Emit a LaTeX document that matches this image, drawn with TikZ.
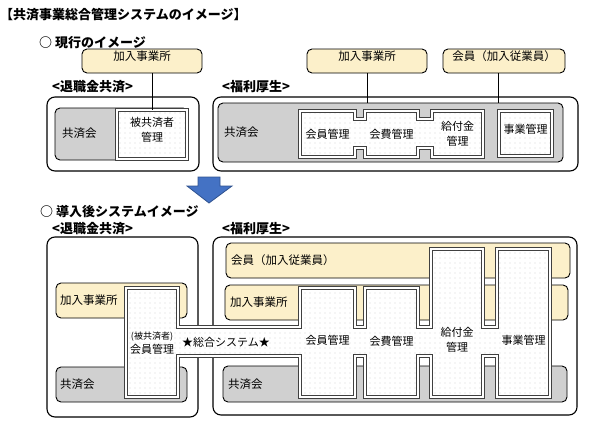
\documentclass[tikz,border=0pt]{standalone}
\usepackage{fontspec}
\setmainfont{Noto Sans CJK JP}
\usetikzlibrary{fit,patterns.meta}
\definecolor{kiiro}{HTML}{FCF0CA}
\definecolor{haiiro}{HTML}{D0D0D0}
\definecolor{ao}{HTML}{4472C4}
\definecolor{aowaku}{HTML}{2F528F}
\begin{document}
\begin{tikzpicture}[x=1pt,y=-1pt,font=\fontsize{11.5}{13}\selectfont,
   frame/.style={draw=black,line width=1.1pt,rounded corners=8pt,fill=white},
   ybox/.style={draw=black,line width=0.9pt,rounded corners=5pt,fill=kiiro,inner sep=0pt},
   gbox/.style={draw=black,line width=0.9pt,rounded corners=5pt,fill=haiiro,inner sep=0pt},
   sys/.style={draw=black!75,line width=1pt,double=white,double distance=1.2pt,
     preaction={fill=white},pattern={Dots[distance=5pt,radius=0.45pt]},pattern color=black!45},
   sysbox/.style={sys,inner sep=0pt,align=center},
   head/.style={anchor=west,inner sep=0pt,font=\fontsize{13}{15}\selectfont\bfseries},
   lbl/.style={anchor=west,inner sep=0pt},
   txt/.style={align=center,inner sep=0pt,font=\fontsize{11}{15}\selectfont},
   link/.style={draw=black,line width=0.8pt}]
  \useasboundingbox (0,0) rectangle (593,428);

  % headings
  \node[head] (title) at (0,15) {【共済事業総合管理システムのイメージ】};
  \node[head] (genko) at (39,43) {○ 現行のイメージ};
  \node[head] (tkA) at (52,87) {<退職金共済>};
  \node[head] (fkA) at (222,87) {<福利厚生>};
  \node[head] (donyu) at (40,212) {○ 導入後システムイメージ};
  \node[head] (tkB) at (52,229) {<退職金共済>};
  \node[head] (fkB) at (222,229) {<福利厚生>};

  % current
  \draw[frame] (47,97) rectangle (199,171);
  \draw[frame] (213,97) rectangle (578,171);
  \node[gbox,fit={(55,108)(188,160)}] (kyA) {};
  \node[gbox,fit={(218,103)(563,162)}] (kyB) {};
  \node[lbl] (kyAt) at (62,133) {共済会};
  \node[lbl] (kyBt) at (224,132) {共済会};
  \node[sysbox,txt,fit={(117,110)(187,159)}] (hkA) {被共済者\\管理};
  \draw[sys] (300,111) -- (355,111) -- (355,119) -- (365,119) -- (365,111) -- (418,111)
    -- (418,119) -- (432,119) -- (432,111) -- (483,111) -- (483,157) -- (432,157)
    -- (432,148) -- (418,148) -- (418,157) -- (365,157) -- (365,148) -- (355,148)
    -- (355,157) -- (300,157) -- cycle;
  \node[txt] (kmA) at (327.5,134) {会員管理};
  \node[txt] (khA) at (391.5,134) {会費管理};
  \node[txt] (kfA) at (457.5,134) {給付金\\管理};
  \node[sysbox,txt,fit={(499,111)(552,156)}] (jmA) {事業管理};

  \node[ybox,fit={(82,49)(202,73)}] (kjA) {加入事業所};
  \node[ybox,fit={(307,49)(427,73)}] (kjB) {加入事業所};
  \node[ybox,fit={(443,49)(565,73)}] (kiA) {会員（加入従業員）};
  \draw[link] (kjA.south -| hkA.north) -- (hkA.north);
  \draw[link] (kjB.south) -- (kjB.south |- kyB.north);
  \draw[link] ([xshift=-6pt]kiA.south) -- ([xshift=-6pt]kiA.south |- kyB.north);

  \draw[fill=ao,draw=aowaku,line width=0.8pt] (198,177) -- (220,177) -- (220,186)
    -- (232,186) -- (209,203) -- (187,186) -- (198,186) -- cycle;

  % after introduction
  \draw[frame] (47,237) rectangle (198,417);
  \draw[frame] (213,237) rectangle (577,415);
  \node[ybox,fit={(56,283)(187,318)}] (kjC) {};
  \node[lbl] (kjCt) at (60,300) {加入事業所};
  \node[gbox,fit={(56,367)(187,402)}] (kyC) {};
  \node[lbl] (kyCt) at (60,384) {共済会};
  \node[ybox,fit={(226,243)(570,278)}] (kiB) {};
  \node[lbl] (kiBt) at (231,260) {会員（加入従業員）};
  \node[ybox,fit={(225,285)(568,320)}] (kjD) {};
  \node[lbl] (kjDt) at (230,302) {加入事業所};
  \node[gbox,fit={(223,366)(567,402)}] (kyD) {};
  \node[lbl] (kyDt) at (228,384) {共済会};

  \draw[sys] (126,288) -- (178,288) -- (178,327) -- (300,327) -- (300,288) -- (355,288)
    -- (355,327) -- (365,327) -- (365,288) -- (418,288) -- (418,327) -- (431,327)
    -- (431,249) -- (483,249) -- (483,327) -- (497,327) -- (497,249) -- (550,249)
    -- (550,397) -- (497,397) -- (497,356) -- (483,356) -- (483,397) -- (431,397)
    -- (431,356) -- (418,356) -- (418,397) -- (365,397) -- (365,356) -- (355,356)
    -- (355,397) -- (300,397) -- (300,356) -- (178,356) -- (178,397) -- (126,397) -- cycle;
  \node[txt,font=\fontsize{9}{11}\selectfont] (hkB) at (152,336.5) {(被共済者)};
  \node[txt] (kmB) at (152,349.5) {会員管理};
  \node[txt] (sogo) at (226,342) {★総合システム★};
  \node[txt] (kmC) at (327.5,340) {会員管理};
  \node[txt] (khC) at (391.5,341) {会費管理};
  \node[txt] (kfC) at (457,340) {給付金\\管理};
  \node[txt] (jmC) at (523.5,340) {事業管理};
\end{tikzpicture}
\end{document}
